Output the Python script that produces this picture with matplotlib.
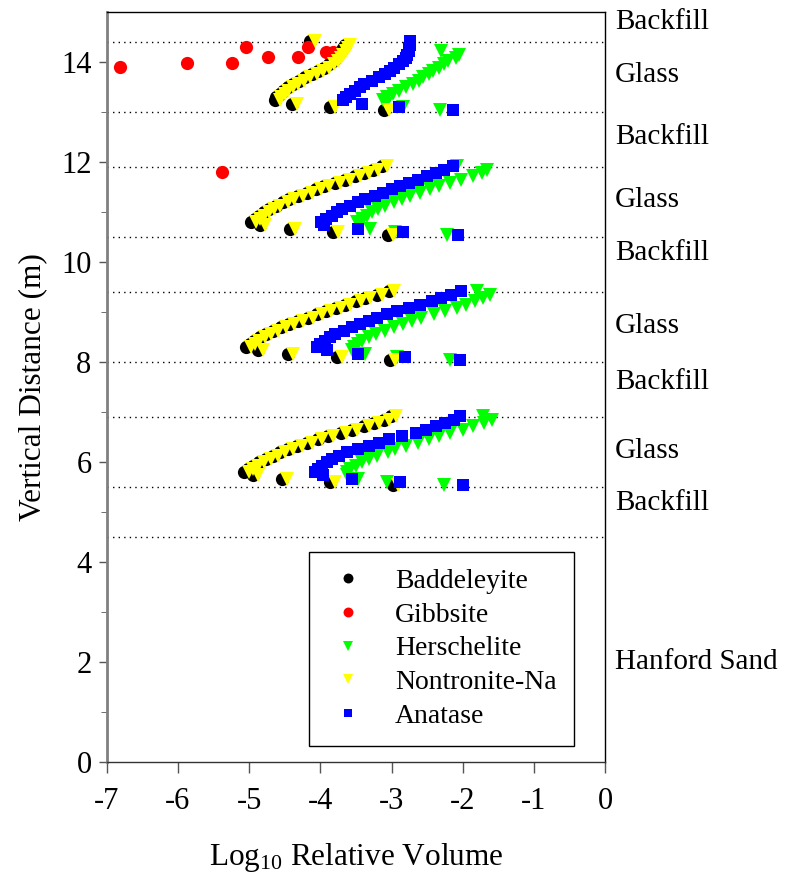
import numpy as np
import matplotlib
matplotlib.use("Agg")
import matplotlib.pyplot as plt
from matplotlib.transforms import blended_transform_factory

plt.rcParams["font.family"] = ["Liberation Serif", "DejaVu Serif"]
plt.rcParams["mathtext.default"] = "regular"
plt.rcParams["axes.unicode_minus"] = False

nan = np.nan

# depth grid (m) of the glass cells, one list per glass layer
DEPTH_S1 = [13.04, 13.11, 13.17, 13.24, 13.30, 13.37, 13.43, 13.50, 13.56, 13.63, 13.70,
            13.76, 13.83, 13.89, 13.96, 14.02, 14.09, 14.15, 14.22, 14.28, 14.35, 14.42]
DEPTH_S2 = [10.54, 10.61, 10.67, 10.74, 10.80, 10.87, 10.93, 11.00, 11.06, 11.13, 11.20,
            11.26, 11.33, 11.39, 11.46, 11.52, 11.59, 11.65, 11.72, 11.78, 11.85, 11.92]
DEPTH_S3 = [8.04, 8.11, 8.17, 8.24, 8.30, 8.37, 8.43, 8.50, 8.56, 8.63, 8.70,
            8.76, 8.83, 8.89, 8.96, 9.02, 9.09, 9.15, 9.22, 9.28, 9.35, 9.42]
DEPTH_S4 = [5.54, 5.61, 5.67, 5.74, 5.80, 5.87, 5.93, 6.00, 6.06, 6.13, 6.20,
            6.26, 6.33, 6.39, 6.46, 6.52, 6.59, 6.65, 6.72, 6.78, 6.85, 6.92]

# log10 relative volume per mineral and glass layer
BADD_S1 = [-3.11, -3.86, -4.40, -4.64, -4.62, -4.57, -4.52, -4.45, -4.38, -4.30, -4.21,
           -4.12, -4.03, -3.95, -3.88, -3.82, -3.78, -3.75, -3.71, -3.68, -3.65, -4.15]
BADD_S2 = [-3.05, -3.82, -4.43, -4.85, -4.98, -4.92, -4.86, -4.79, -4.72, -4.63, -4.53,
           -4.44, -4.31, -4.19, -4.06, -3.95, -3.79, -3.65, -3.52, -3.38, -3.26, -3.14]
BADD_S3 = [-3.02, -3.77, -4.45, -4.87, -5.05, -4.99, -4.93, -4.85, -4.77, -4.67, -4.55,
           -4.44, -4.31, -4.18, -4.05, -3.92, -3.78, -3.65, -3.50, -3.37, -3.21, -3.04]
BADD_S4 = [-2.98, -3.87, -4.54, -4.94, -5.07, -5.01, -4.95, -4.86, -4.77, -4.67, -4.56,
           -4.45, -4.33, -4.19, -4.04, -3.89, -3.71, -3.56, -3.39, -3.24, -3.10, -3.01]

NONT_S1 = [-3.04, -3.79, -4.33, -4.57, -4.55, -4.50, -4.45, -4.38, -4.31, -4.23, -4.14,
           -4.05, -3.96, -3.88, -3.81, -3.75, -3.71, -3.68, -3.64, -3.61, -3.58, -4.08]
NONT_S2 = [-2.98, -3.75, -4.36, -4.78, -4.91, -4.85, -4.79, -4.72, -4.65, -4.56, -4.46,
           -4.37, -4.24, -4.12, -3.99, -3.88, -3.72, -3.58, -3.45, -3.31, -3.19, -3.07]
NONT_S3 = [-2.95, -3.70, -4.38, -4.80, -4.98, -4.92, -4.86, -4.78, -4.70, -4.60, -4.48,
           -4.37, -4.24, -4.11, -3.98, -3.85, -3.71, -3.58, -3.43, -3.30, -3.14, -2.97]
NONT_S4 = [-2.91, -3.80, -4.47, -4.87, -5.00, -4.94, -4.88, -4.79, -4.70, -4.60, -4.49,
           -4.38, -4.26, -4.12, -3.97, -3.82, -3.64, -3.49, -3.32, -3.17, -3.03, -2.94]

HERS_S1 = [-2.32, -2.84, -3.08, -3.12, -3.06, -2.98, -2.90, -2.80, -2.70, -2.62, -2.56,
           -2.48, -2.42, -2.34, -2.26, -2.20, -2.10, -2.05, -2.30, nan, nan, nan]
HERS_S2 = [-2.22, -2.95, -3.30, -3.45, -3.48, -3.42, -3.35, -3.27, -3.19, -3.09, -2.96,
           -2.85, -2.74, -2.60, -2.46, -2.34, -2.18, -2.03, -1.86, -1.73, -1.66, -2.08]
HERS_S3 = [-2.18, -2.93, -3.37, -3.56, -3.53, -3.47, -3.41, -3.32, -3.22, -3.09, -2.96,
           -2.84, -2.71, -2.58, -2.41, -2.25, -2.08, -1.96, -1.83, -1.72, -1.62, -1.80]
HERS_S4 = [-2.27, -3.07, -3.47, -3.62, -3.63, -3.58, -3.50, -3.41, -3.32, -3.21, -3.05,
           -2.95, -2.80, -2.63, -2.47, -2.34, -2.18, -1.99, -1.86, -1.70, -1.59, -1.71]

ANAT_S1 = [-2.14, -2.89, -3.42, -3.68, -3.64, -3.58, -3.52, -3.45, -3.38, -3.28, -3.18,
           -3.09, -3.02, -2.96, -2.89, -2.84, -2.80, -2.78, -2.76, -2.75, -2.74, -2.74]
ANAT_S2 = [-2.06, -2.84, -3.47, -3.95, -3.99, -3.92, -3.84, -3.77, -3.69, -3.58, -3.47,
           -3.37, -3.23, -3.12, -2.99, -2.88, -2.75, -2.63, -2.50, -2.38, -2.26, -2.13]
ANAT_S3 = [-2.04, -2.81, -3.47, -3.91, -4.05, -4.00, -3.94, -3.87, -3.79, -3.67, -3.56,
           -3.45, -3.32, -3.20, -3.07, -2.93, -2.75, -2.60, -2.43, -2.30, -2.17, -2.03]
ANAT_S4 = [-1.99, -2.88, -3.56, -3.96, -4.08, -4.03, -3.97, -3.91, -3.84, -3.74, -3.62,
           -3.47, -3.31, -3.17, -3.03, -2.86, -2.65, -2.52, -2.37, -2.25, -2.12, -2.04]

GIBB_X = [-6.81, -5.88, -5.24, -5.05, -4.74, -4.31, -4.18, -3.92, -3.82, -5.38]
GIBB_Y = [13.91, 13.99, 13.99, 14.31, 14.11, 14.11, 14.31, 14.21, 14.21, 11.81]

# layer boundaries and labels
BOUNDARIES = [14.4, 13.0, 11.9, 10.5, 9.4, 8.0, 6.9, 5.5, 4.5]
LAYER_NAMES = ["Backfill", "Glass", "Backfill", "Glass", "Backfill", "Glass",
               "Backfill", "Glass", "Backfill", "Hanford Sand"]
LAYER_Y = [14.8, 13.74, 12.5, 11.24, 10.18, 8.72, 7.6, 6.22, 5.18, 2.0]

depth = DEPTH_S1 + DEPTH_S2 + DEPTH_S3 + DEPTH_S4
series = [
    ("Baddeleyite", BADD_S1 + BADD_S2 + BADD_S3 + BADD_S4, depth, "o", "#000000", 9.5),
    ("Gibbsite", GIBB_X, GIBB_Y, "o", "#ff0000", 9.5),
    ("Herschelite", HERS_S1 + HERS_S2 + HERS_S3 + HERS_S4, depth, "v", "#00ff00", 10),
    ("Nontronite-Na", NONT_S1 + NONT_S2 + NONT_S3 + NONT_S4, depth, "v", "#ffff00", 10),
    ("Anatase", ANAT_S1 + ANAT_S2 + ANAT_S3 + ANAT_S4, depth, "s", "#0000ff", 8.5),
]

fig = plt.figure(figsize=(7.91, 8.74), dpi=100)
ax = fig.add_axes([0.135, 0.128, 0.63, 0.858])

for yb in BOUNDARIES:
    ax.axhline(yb, color="black", lw=1.0, ls=(0, (1, 3)), zorder=1)

for name, xs, ys, mk, col, ms in series:
    ax.plot(xs, ys, ls="none", marker=mk, color=col, markersize=ms,
            markeredgewidth=0, label=name, zorder=3)

ax.set_xlim(-7, 0)
ax.set_ylim(0, 15)
ax.set_xticks(range(-7, 1))
ax.set_yticks(range(0, 15, 2))
ax.set_yticks(range(1, 15, 2), minor=True)
ax.tick_params(axis="both", which="major", direction="out", labelsize=22,
               color="#555555", width=1.0)
ax.tick_params(axis="x", length=8, pad=10)
ax.tick_params(axis="y", length=6, pad=5)
ax.tick_params(axis="y", which="minor", direction="out", length=4, color="#555555")

ax.spines["left"].set_color("#808080")
ax.spines["left"].set_linewidth(2.0)
ax.spines["bottom"].set_color("#333333")
ax.spines["bottom"].set_linewidth(1.0)
for side in ("top", "right"):
    ax.spines[side].set_linewidth(1.0)

ax.set_xlabel("Log$_{10}$ Relative Volume", fontsize=22.5, labelpad=18)
ax.set_ylabel("Vertical Distance (m)", fontsize=22.5, labelpad=10)

trans = blended_transform_factory(ax.transAxes, ax.transData)
for name, yv in zip(LAYER_NAMES, LAYER_Y):
    ax.text(1.02, yv, name, transform=trans, ha="left", va="center", fontsize=21)

leg = ax.legend(loc="lower left", bbox_to_anchor=(0.406, 0.022), fontsize=20,
                numpoints=1, markerscale=0.75, fancybox=False, framealpha=1,
                edgecolor="black", borderpad=0.6, labelspacing=0.3,
                handlelength=1.6, handletextpad=0.9, borderaxespad=0)
leg.get_frame().set_linewidth(1.0)

fig.savefig("out.png", dpi=100)
